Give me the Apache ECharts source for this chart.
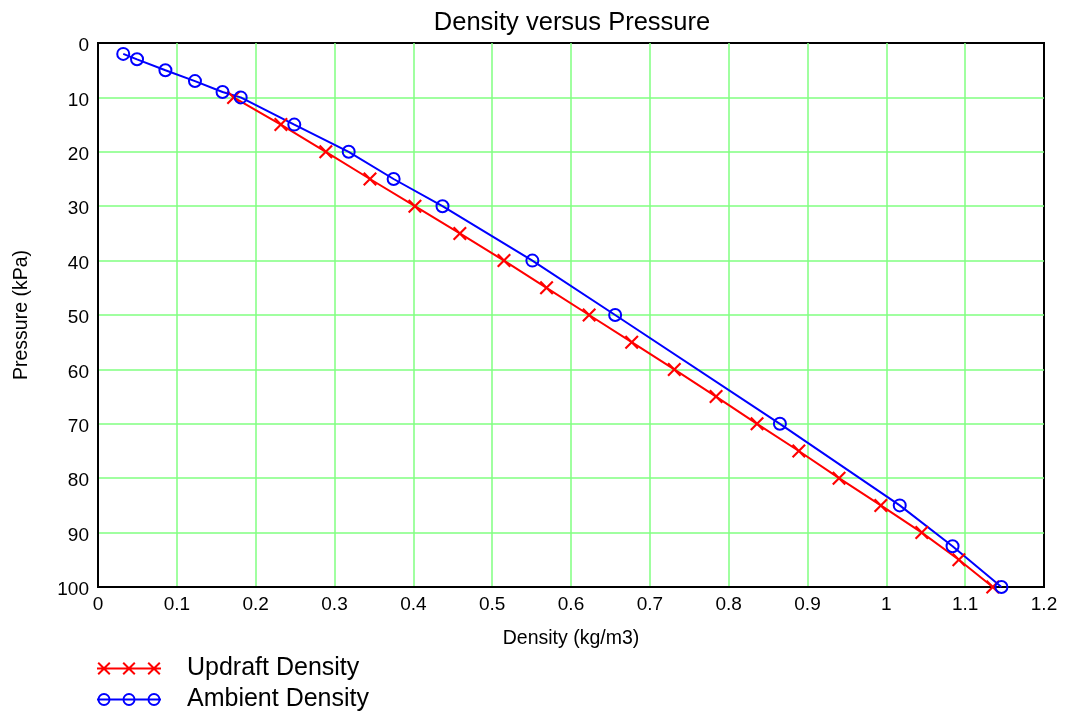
<!DOCTYPE html>
<html><head><meta charset="utf-8">
<script src="https://cdn.jsdelivr.net/npm/echarts@6/dist/echarts.min.js"></script>
<style>html,body{margin:0;padding:0;background:#fff}#c{width:1079px;height:720px}</style>
</head><body><div id="c"></div>
<script>
// ---- data ----
const titleText = 'Density versus Pressure';
const xAxisName = 'Density (kg/m3)';
const yAxisName = 'Pressure (kPa)';
const seriesNames = ['Updraft Density', 'Ambient Density'];

const updraftPressure = [10, 15, 20, 25, 30, 35, 40, 45, 50, 55, 60, 65, 70, 75, 80, 85, 90, 95, 100];
const updraftDensity  = [0.172, 0.232, 0.289, 0.345, 0.402, 0.459, 0.515, 0.569, 0.623, 0.677, 0.731, 0.784, 0.836, 0.889, 0.940, 0.993, 1.045, 1.092, 1.135];

const ambientPressure = [2, 3, 5, 7, 9, 10, 15, 20, 25, 30, 40, 50, 70, 85, 92.5, 100];
const ambientDensity  = [0.032, 0.0495, 0.0855, 0.123, 0.158, 0.181, 0.249, 0.318, 0.375, 0.437, 0.551, 0.656, 0.865, 1.017, 1.084, 1.146];

const xTickMin = 0, xTickMax = 1.2, xTickStep = 0.1;
const yTickMin = 0, yTickMax = 100, yTickStep = 10;

// ---- helpers (styling only) ----
const FONT = "'Liberation Sans', Arial, sans-serif";
const RED = '#ff0000', BLUE = '#0000ff', GRIDC = '#80ff80';

function xPoly(cx, cy, h, d) {
  const p = [[-h,-h+d],[-h+d,-h],[0,-d],[h-d,-h],[h,-h+d],[d,0],[h,h-d],[h-d,h],[0,d],[-h+d,h],[-h,h-d],[-d,0]];
  return 'M' + p.map(q => (cx+q[0]).toFixed(2) + ' ' + (cy+q[1]).toFixed(2)).join(' L') + ' Z ';
}
function ring(cx, cy, r, r2) {
  return 'M' + (cx-r) + ' ' + cy + ' A' + r + ' ' + r + ' 0 1 1 ' + (cx+r) + ' ' + cy +
         ' A' + r + ' ' + r + ' 0 1 1 ' + (cx-r) + ' ' + cy + ' Z ' +
         'M' + (cx-r2) + ' ' + cy + ' A' + r2 + ' ' + r2 + ' 0 1 0 ' + (cx+r2) + ' ' + cy +
         ' A' + r2 + ' ' + r2 + ' 0 1 0 ' + (cx-r2) + ' ' + cy + ' Z ';
}
const lineBar = 'M0 6 L64 6 L64 8 L0 8 Z ';
const pad = 'M85 7 Z';
const legendCross = 'path://' + lineBar + xPoly(7,7,6.5,1.4) + xPoly(32,7,6.5,1.4) + xPoly(57,7,6.5,1.4) + pad;
const legendCirc = 'path://' + lineBar + ring(7,7,6.5,4.6) + ring(32,7,6.5,4.6) + ring(57,7,6.5,4.6) + pad;
const markerX = 'path://M0 1.3 L1.3 0 L6 4.7 L10.7 0 L12 1.3 L7.3 6 L12 10.7 L10.7 12 L6 7.3 L1.3 12 L0 10.7 L4.7 6 Z';

const chart = echarts.init(document.getElementById('c'), null, {renderer: 'canvas'});
function legendFor(name, icon, color, top) {
  return {
    left: 97, top: top, orient: 'vertical', itemWidth: 85, itemHeight: 14, padding: 0,
    selectedMode: false,
    textStyle: {fontFamily: FONT, fontSize: 25, color: '#000'},
    data: [{name: name, icon: icon, itemStyle: {color: color, borderWidth: 0, borderColor: 'transparent'}}]
  };
}
chart.setOption({
  animation: false,
  backgroundColor: '#fff',
  title: {
    text: titleText, left: 567, textAlign: 'center', top: 5,
    textStyle: {fontFamily: FONT, fontSize: 25.5, fontWeight: 'normal', color: '#000'}
  },
  legend: [
    legendFor(seriesNames[0], legendCross, RED, 656),
    legendFor(seriesNames[1], legendCirc, BLUE, 687)
  ],
  grid: {left: 98, right: 35, top: 43, bottom: 133, show: true, borderColor: '#000', borderWidth: 2, backgroundColor: '#fff'},
  xAxis: {
    type: 'value', min: xTickMin, max: xTickMax, interval: xTickStep,
    name: xAxisName, nameLocation: 'middle', nameGap: 42,
    nameTextStyle: {fontFamily: FONT, fontSize: 19.5, color: '#000'},
    axisLine: {show: true, onZero: false, lineStyle: {color: '#000', width: 2}},
    axisTick: {show: false},
    axisLabel: {fontFamily: FONT, fontSize: 19, color: '#000', margin: 8},
    splitLine: {show: true, showMinLine: false, showMaxLine: false, lineStyle: {color: GRIDC, width: 1.5}}
  },
  yAxis: {
    type: 'value', inverse: true, min: yTickMin, max: yTickMax, interval: yTickStep,
    name: yAxisName, nameLocation: 'middle', nameGap: 66,
    nameTextStyle: {fontFamily: FONT, fontSize: 19.5, color: '#000'},
    axisLine: {show: true, onZero: false, lineStyle: {color: '#000', width: 2}},
    axisTick: {show: false},
    axisLabel: {fontFamily: FONT, fontSize: 19, color: '#000', margin: 9, verticalAlign: 'top', lineHeight: 6},
    splitLine: {show: true, showMinLine: false, showMaxLine: false, lineStyle: {color: GRIDC, width: 1.5}}
  },
  series: [
    {
      name: seriesNames[0], type: 'line',
      data: updraftDensity.map((d, i) => [d, updraftPressure[i]]),
      symbol: markerX, symbolSize: 14, symbolKeepAspect: true,
      itemStyle: {color: RED},
      lineStyle: {color: RED, width: 2},
      emphasis: {disabled: true}, silent: true
    },
    {
      name: seriesNames[1], type: 'line',
      data: ambientDensity.map((d, i) => [d, ambientPressure[i]]),
      symbol: 'circle', symbolSize: 12,
      itemStyle: {color: 'rgba(0,0,0,0)', borderColor: BLUE, borderWidth: 2},
      lineStyle: {color: BLUE, width: 2},
      emphasis: {disabled: true}, silent: true
    }
  ]
});
</script>
</body></html>
